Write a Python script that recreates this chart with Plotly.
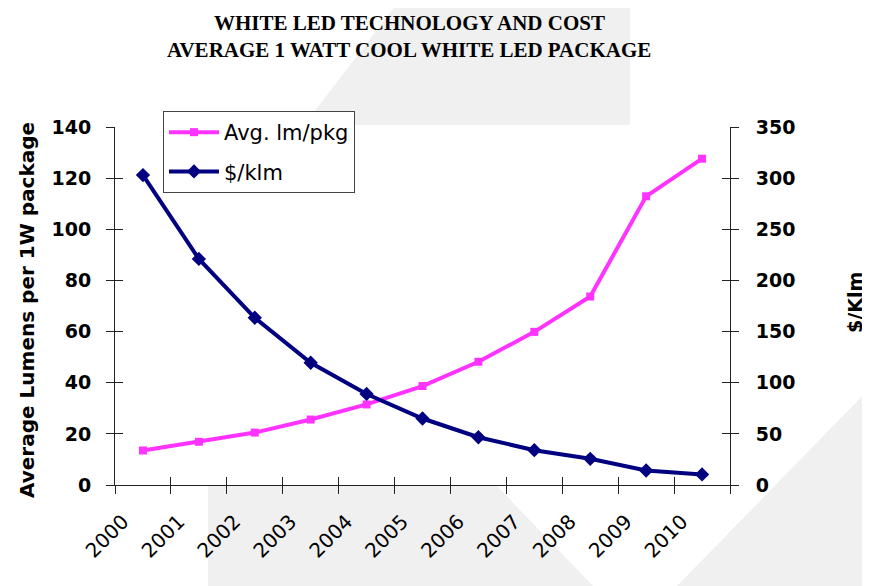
import plotly.graph_objects as go

years = ["2000", "2001", "2002", "2003", "2004", "2005", "2006", "2007", "2008", "2009", "2010"]
lm_per_pkg = [13.5, 16.9, 20.5, 25.6, 31.5, 38.7, 48.2, 59.9, 73.7, 112.9, 127.6]
usd_per_klm = [303, 221, 163.5, 119.5, 89, 65, 46.7, 34, 25.6, 14.2, 10.3]

left_ticks = [0, 20, 40, 60, 80, 100, 120, 140]
right_ticks = [0, 50, 100, 150, 200, 250, 300, 350]

# the page body adds an 8px offset; figure is sized to compensate
OFF = 8
W, H = 870 - OFF, 586 - OFF
L, T = 115 - OFF, 127 - OFF
R, B = 140, 101
PW, PH = W - L - R, H - T - B


def px(x):  # reference pixel x -> paper
    return (x - OFF - L) / PW


def py(y):  # reference pixel y -> paper
    return (H - B - (y - OFF)) / PH


SANS = "DejaVu Sans"
SERIF = "Liberation Serif"
AX = "#222222"

fig = go.Figure()
fig.add_trace(go.Scatter(
    x=years, y=lm_per_pkg, name="Avg. lm/pkg", mode="lines+markers",
    line=dict(color="#FF33FF", width=4),
    marker=dict(symbol="square", size=8, color="#FF33FF"),
    legendgroup="a", yaxis="y"))
fig.add_trace(go.Scatter(
    x=years, y=usd_per_klm, name="$/klm", mode="lines+markers",
    line=dict(color="#000080", width=4),
    marker=dict(symbol="diamond", size=11, color="#000080"),
    legendgroup="b", yaxis="y2"))
# dummy traces to activate the overlay axes (inner halves of crossing ticks)
fig.add_trace(go.Scatter(x=[None], y=[None], xaxis="x", yaxis="y3", showlegend=False, hoverinfo="skip"))
fig.add_trace(go.Scatter(x=[None], y=[None], xaxis="x", yaxis="y4", showlegend=False, hoverinfo="skip"))
fig.add_trace(go.Scatter(x=[None], y=[None], xaxis="x2", yaxis="y", showlegend=False, hoverinfo="skip"))

tickfont_b = dict(family=SANS, size=19, color="black", weight="bold")

fig.update_layout(
    width=W, height=H,
    margin=dict(l=L, r=R, t=T, b=B, autoexpand=False),
    paper_bgcolor="white", plot_bgcolor="rgba(0,0,0,0)",
    showlegend=True,
    xaxis=dict(type="category", categoryorder="array", categoryarray=years,
               range=[-0.5, 10.5], tickson="boundaries", ticks="outside", ticklen=8,
               tickcolor=AX, showline=True, linecolor=AX, linewidth=1,
               showgrid=False, zeroline=False, tickangle=-45, automargin=False,
               ticklabelshift=-20, ticklabelstandoff=16,
               tickfont=dict(family=SANS, size=20, color="black")),
    xaxis2=dict(overlaying="x", anchor="y", range=[-0.5, 10.5], tick0=-0.5, dtick=1,
                ticks="inside", ticklen=8, tickcolor=AX, showticklabels=False,
                showline=False, showgrid=False, zeroline=False, side="bottom"),
    yaxis=dict(range=[0, 140], tickvals=left_ticks, ticks="outside", ticklen=8,
               tickcolor=AX, showline=True, linecolor=AX, linewidth=1,
               showgrid=False, zeroline=False, tickfont=tickfont_b,
               ticklabelstandoff=11, automargin=False),
    yaxis2=dict(range=[0, 350], tickvals=right_ticks, overlaying="y", side="right",
                anchor="x", ticks="outside", ticklen=8, tickcolor=AX, showline=True,
                linecolor=AX, linewidth=1, showgrid=False, zeroline=False,
                tickfont=tickfont_b, ticklabelstandoff=13, automargin=False),
    yaxis3=dict(range=[0, 140], tickvals=left_ticks, overlaying="y", side="left",
                anchor="x", ticks="inside", ticklen=8, tickcolor=AX,
                showticklabels=False, showline=False, showgrid=False, zeroline=False),
    yaxis4=dict(range=[0, 350], tickvals=right_ticks, overlaying="y", side="right",
                anchor="x", ticks="inside", ticklen=8, tickcolor=AX,
                showticklabels=False, showline=False, showgrid=False, zeroline=False),
    legend=dict(x=px(163), y=py(111), xanchor="left", yanchor="top",
                bgcolor="white", bordercolor="#444444", borderwidth=1,
                font=dict(family=SANS, size=21, color="black"),
                itemwidth=50, tracegroupgap=9, traceorder="grouped"),
)

# faint background watermark regions
grey = "#F0F0F0"
regions = [
    [(400, 0), (630, 0), (630, 125), (304, 125)],
    [(208, 486), (497, 486), (593, 586), (208, 586)],
    [(870, 388), (870, 586), (677, 586)],
]
for poly in regions:
    path = "M " + " L ".join(f"{px(a):.4f},{py(b):.4f}" for a, b in poly) + " Z"
    fig.add_shape(type="path", path=path, xref="paper", yref="paper",
                  fillcolor=grey, line=dict(width=0), layer="below")

# titles
fig.add_annotation(text="<b>WHITE LED TECHNOLOGY AND COST</b>", x=px(409), y=py(23),
                   xref="paper", yref="paper", xanchor="center", yanchor="middle",
                   showarrow=False, font=dict(family=SERIF, size=21, color="black"))
fig.add_annotation(text="<b>AVERAGE 1 WATT COOL WHITE LED PACKAGE</b>", x=px(409), y=py(50),
                   xref="paper", yref="paper", xanchor="center", yanchor="middle",
                   showarrow=False, font=dict(family=SERIF, size=21, color="black"))
fig.add_annotation(text="<b>Average Lumens per 1W package</b>", x=px(27), y=py(310),
                   xref="paper", yref="paper", xanchor="center", yanchor="middle",
                   textangle=-90, showarrow=False,
                   font=dict(family=SANS, size=20, color="black"))
fig.add_annotation(text="<b>$/Klm</b>", x=px(855), y=py(303),
                   xref="paper", yref="paper", xanchor="center", yanchor="middle",
                   textangle=-90, showarrow=False,
                   font=dict(family=SANS, size=19, color="black"))

fig.write_html("out.html")
